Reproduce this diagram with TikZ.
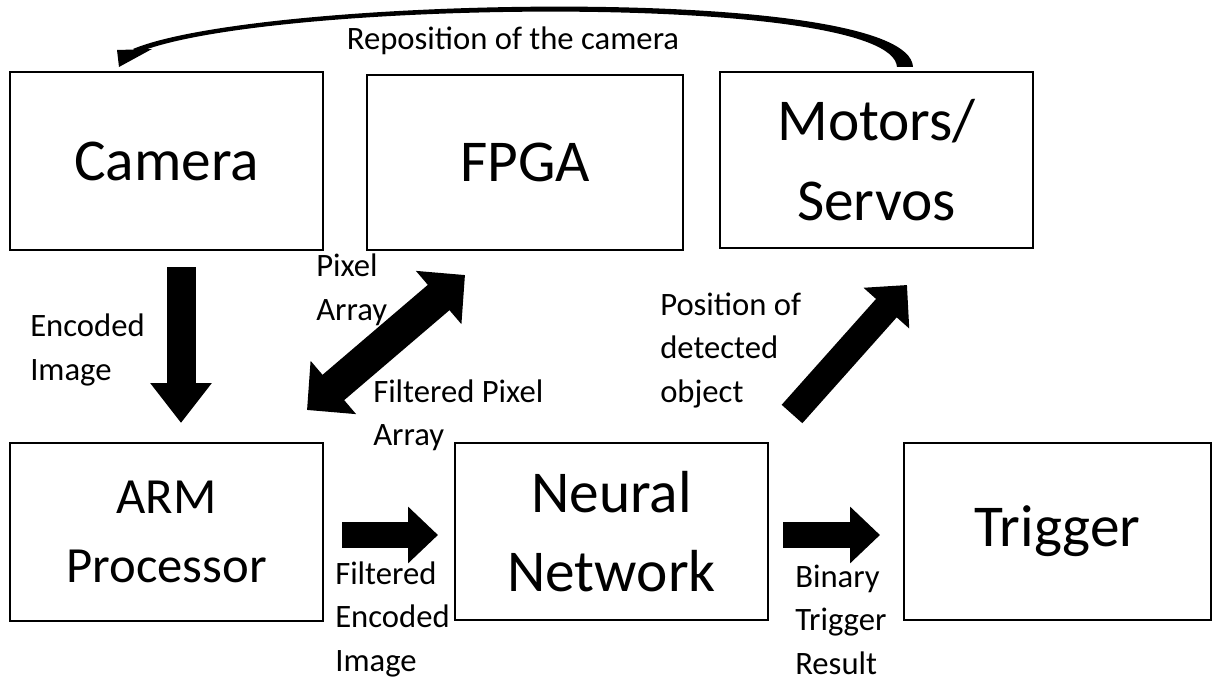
\documentclass[tikz,border=0pt]{standalone}
\usepackage{fontspec}
\setmainfont{Carlito}
\usetikzlibrary{arrows.meta}

\begin{document}
\begin{tikzpicture}[x=0.75pt, y=-0.75pt,
        block/.style={draw, line width=1.5pt, inner sep=0pt, align=center,
            font=\fontsize{44.5}{59.5}\selectfont},
        lbl/.style={anchor=base west, inner sep=0pt, align=left,
            font=\fontsize{24.5}{32.6}\selectfont}]
        \useasboundingbox (0,0) rectangle (1213,681);
        % blocks
        \node[block, minimum width=234.75pt, minimum height=133.5pt] (cam) at (166.5,161) {Camera};
        \node[block, minimum width=237pt, minimum height=131.25pt] (fpga) at (525,162.5) {FPGA};
        \node[block, minimum width=234.75pt, minimum height=132pt] (motor) at (876.5,160) {Motors/\\Servos};
        \node[block, minimum width=234.75pt, minimum height=133.5pt,
            font=\fontsize{38}{52}\selectfont] (arm) at (166.5,532) {ARM\\Processor};
        \node[block, minimum width=234.75pt, minimum height=132.75pt] (nn) at (611.5,531.5) {Neural\\Network};
        \node[block, minimum width=230.25pt, minimum height=132.75pt] (trig) at (1057.5,531.5) {Trigger};
        % ends of the fat arrows
        \coordinate (cam-out) at (181,267);
        \coordinate (arm-in) at (181,423);
        \coordinate (arm-out) at (342,535);
        \coordinate (nn-in) at (438,535);
        \coordinate (nn-out) at (783,535);
        \coordinate (trig-in) at (880,535);
        \coordinate (arm-io) at (307,410);
        \coordinate (fpga-io) at (465,275);
        \coordinate (nn-up) at (792,414);
        \coordinate (motor-in) at (907,285);
        \draw[line width=21.75pt, -{Triangle[length=30pt, width=44.25pt]}] (cam-out) -- (arm-in);
        \draw[line width=19.5pt, -{Triangle[length=22.5pt, width=41.25pt]}] (arm-out) -- (nn-in);
        \draw[line width=19.5pt, -{Triangle[length=22.5pt, width=41.25pt]}] (nn-out) -- (trig-in);
        \draw[line width=25pt, {Triangle[length=26pt, width=51pt]}-{Triangle[length=26pt, width=51pt]}] (arm-io) -- (fpga-io);
        \draw[line width=20.75pt, -{Triangle[length=23.25pt, width=44.5pt]}] (nn-up) -- (motor-in);
        % curved feedback arrow, thick at the motors
        \coordinate (motor-top) at (905,67);
        \coordinate (cam-top) at (119,67);
        \fill (913,67) .. controls (909,-17) and (260,-4) .. (133,49)
            -- (137,53) .. controls (260,0) and (892,-9) .. (897,67) -- cycle;
        \fill (cam-top) -- (117,50) -- (152,49) -- cycle;
        % labels
        \node[lbl, anchor=base] (rep) at (513,50) {Reposition of the camera};
        \node[lbl] (enc) at (30,380) {Encoded\\Image};
        \node[lbl] (pix) at (316,320) {Pixel\\Array};
        \node[lbl] (fpix) at (373,445.5) {Filtered Pixel\\Array};
        \node[lbl] (pos) at (660,402) {Position of\\detected\\object};
        \node[lbl] (fenc) at (335,671) {Filtered\\Encoded\\Image};
        \node[lbl] (bin) at (795,674) {Binary\\Trigger\\Result};
    \end{tikzpicture}
\end{document}
